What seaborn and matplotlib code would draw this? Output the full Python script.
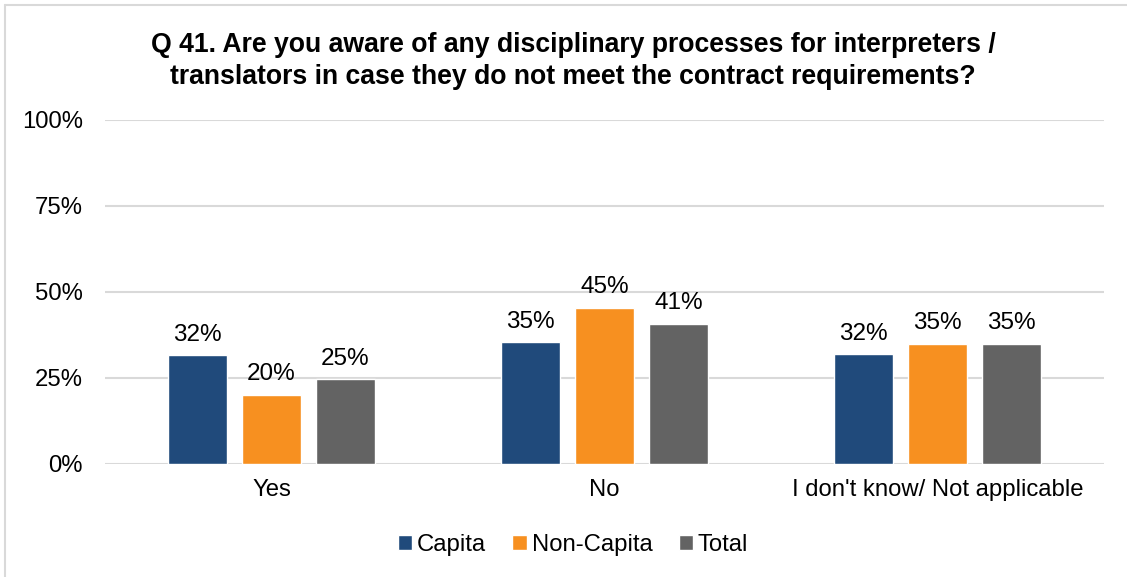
import matplotlib
matplotlib.use("Agg")
import matplotlib.pyplot as plt
import seaborn as sns
import pandas as pd
from matplotlib.lines import Line2D

categories = ["Yes", "No", "I don't know/ Not applicable"]
groups = ["Capita", "Non-Capita", "Total"]
capita = [31.6, 35.4, 31.9]
non_capita = [20.0, 45.3, 35.0]
total = [24.6, 40.7, 35.0]
yticks = [0, 25, 50, 75, 100]
ytick_labels = ["0%", "25%", "50%", "75%", "100%"]
colors = ["#204A7B", "#F79020", "#636363"]
title = ("Q 41. Are you aware of any disciplinary processes for interpreters /\n"
         "translators in case they do not meet the contract requirements?")

rows = []
for g, vals in zip(groups, [capita, non_capita, total]):
    for c, v in zip(categories, vals):
        rows.append({"category": c, "group": g, "value": v})
df = pd.DataFrame(rows)

sns.set_theme(style="white")
plt.rcParams["font.family"] = ["Liberation Sans", "DejaVu Sans"]
plt.rcParams["text.color"] = "#000000"
plt.rcParams["xtick.color"] = "#000000"
plt.rcParams["ytick.color"] = "#000000"

W, H = 1127, 577
FS = 17.2
fig = plt.figure(figsize=(W / 100, H / 100), dpi=100)
ax = fig.add_axes([105 / W, (H - 464) / H, (1104 - 105) / W, 344 / H])

sns.barplot(data=df, x="category", y="value", hue="group", order=categories,
            hue_order=groups, palette=colors, width=2 / 3, gap=0.21,
            saturation=1, ax=ax, legend=True)

for cont in ax.containers:
    ax.bar_label(cont, labels=[f"{b.get_height():.0f}%" for b in cont],
                 padding=7, fontsize=17.5, color="#000000")

ax.set_ylim(0, 100)
ax.set_xlim(-0.5, 2.5)
ax.set_yticks(yticks)
ax.set_yticklabels(ytick_labels, fontsize=FS)
ax.tick_params(axis="x", labelsize=FS, length=0, pad=11, labelcolor="#000000")
ax.tick_params(axis="y", length=0, pad=16, labelcolor="#000000")
ax.set_xlabel("")
ax.set_ylabel("")
ax.grid(axis="y", color="#D9D9D9", linewidth=1.5)
ax.set_axisbelow(True)
for s in ax.spines.values():
    s.set_visible(False)

handles, labels = ax.get_legend_handles_labels()
ax.legend_.remove()
fig.legend(handles, labels, loc="center", bbox_to_anchor=(573 / W, 1 - 545 / H),
           ncol=3, frameon=False, fontsize=FS, handlelength=0.6,
           handleheight=0.6, handletextpad=0.2, columnspacing=1.1,
           labelcolor="#000000")

fig.text(573 / W, 1 - 61 / H, title, ha="center", va="center", color="#000000",
         fontsize=19.2, fontweight="bold", linespacing=1.32)

# light frame along the top and left of the chart area
frame = dict(transform=fig.transFigure, color="#D9D9D9", linewidth=1.5)
fig.add_artist(Line2D([5 / W, 1.01], [1 - 5 / H, 1 - 5 / H], **frame))
fig.add_artist(Line2D([5 / W, 5 / W], [-0.01, 1 - 5 / H], **frame))

fig.savefig("out.png", dpi=100)
